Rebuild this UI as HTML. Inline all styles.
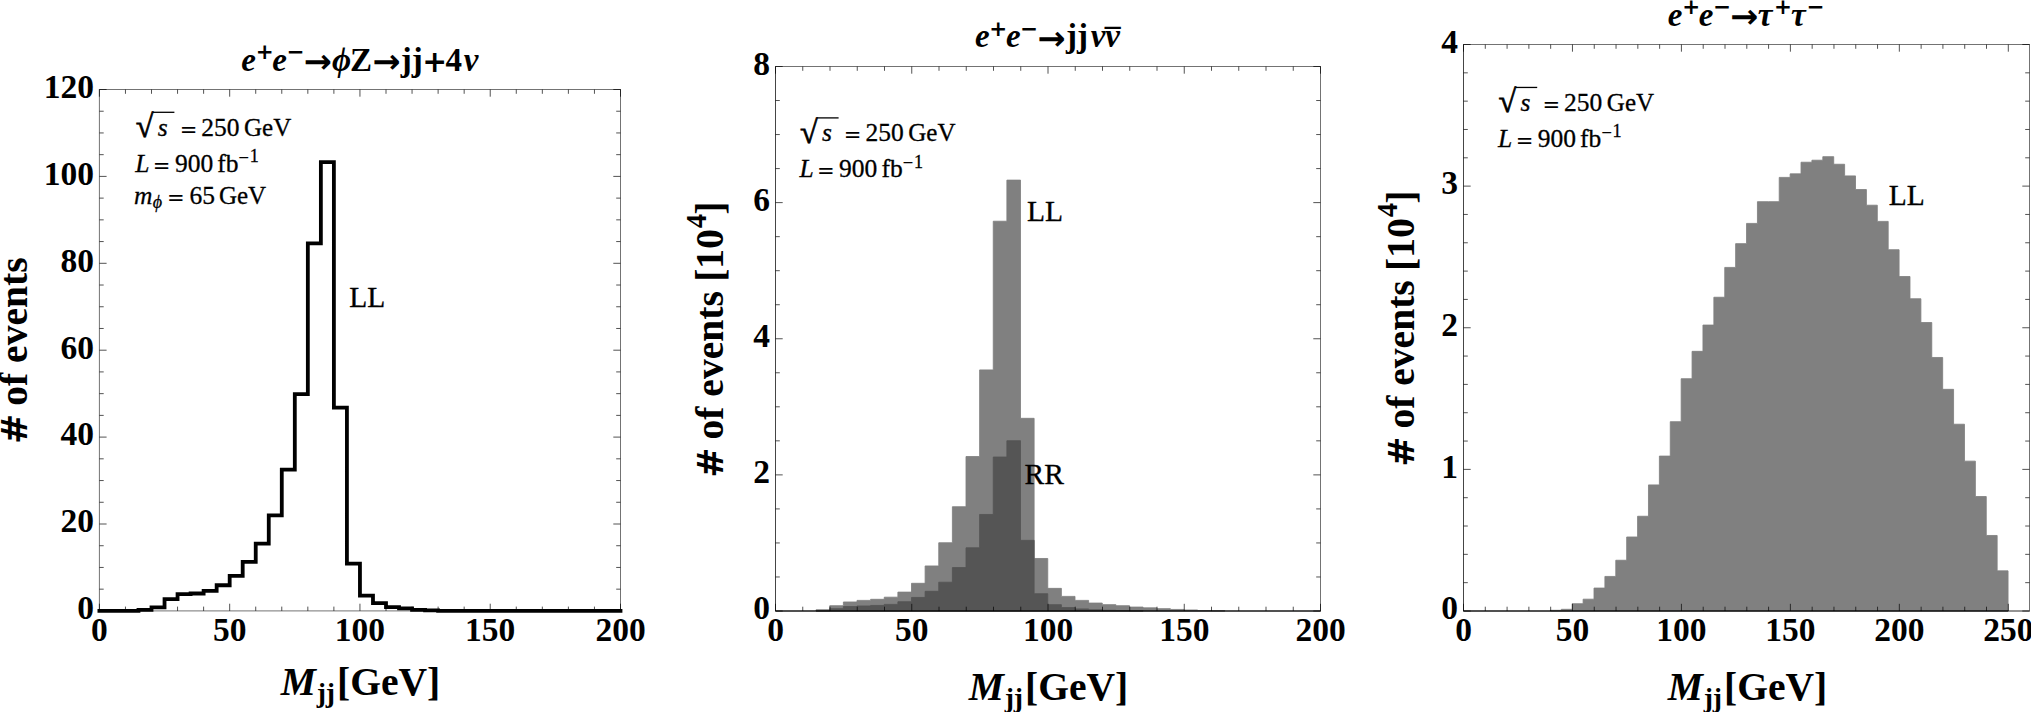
<!DOCTYPE html>
<html><head><meta charset="utf-8"><title>Mjj distributions</title>
<style>
html,body{margin:0;padding:0;background:#fff;overflow:hidden;}
svg{display:block;}
text{font-family:"Liberation Serif","DejaVu Serif",serif;fill:#000;}
.b{font-weight:bold;}
.i{font-style:italic;}
.bi{font-weight:bold;font-style:italic;}
.d{font-family:"DejaVu Sans",sans-serif;font-weight:bold;}
.dr{font-family:"DejaVu Sans",sans-serif;}
.r,.i{stroke:#000;stroke-width:0.3px;}
.rk{stroke:#000;stroke-width:0.7px;}
</style></head><body>
<svg width="2031" height="712" viewBox="0 0 2031 712">
<rect width="2031" height="712" fill="#fff"/>
<path d="M99.40 610.90 L112.43 610.90 L112.43 610.90 L125.46 610.90 L125.46 610.90 L138.48 610.90 L138.48 609.81 L151.51 609.81 L151.51 607.42 L164.54 607.42 L164.54 599.17 L177.56 599.17 L177.56 594.17 L190.59 594.17 L190.59 593.52 L203.62 593.52 L203.62 590.91 L216.65 590.91 L216.65 585.26 L229.68 585.26 L229.68 575.92 L242.70 575.92 L242.70 561.80 L255.73 561.80 L255.73 543.55 L268.76 543.55 L268.76 515.31 L281.78 515.31 L281.78 469.69 L294.81 469.69 L294.81 394.08 L307.84 394.08 L307.84 243.31 L320.87 243.31 L320.87 162.06 L333.89 162.06 L333.89 407.55 L346.92 407.55 L346.92 563.54 L359.95 563.54 L359.95 595.69 L372.98 595.69 L372.98 603.21 L386.00 603.21 L386.00 607.12 L399.03 607.12 L399.03 608.29 L412.06 608.29 L412.06 609.81 L425.09 609.81 L425.09 610.38 L438.12 610.38 L438.12 610.90 L451.14 610.90 L451.14 610.90 L464.17 610.90 L464.17 610.90 L477.20 610.90 L477.20 610.90 L490.23 610.90 L490.23 610.90 L503.25 610.90 L503.25 610.90 L516.28 610.90 L516.28 610.90 L529.31 610.90 L529.31 610.90 L542.34 610.90 L542.34 610.90 L555.36 610.90 L555.36 610.90 L568.39 610.90 L568.39 610.90 L581.42 610.90 L581.42 610.90 L594.45 610.90 L594.45 610.90 L607.47 610.90 L607.47 610.90 L620.50 610.90" fill="none" stroke="#000" stroke-width="3.8" stroke-linejoin="miter" stroke-linecap="square"/>
<path d="M99.40 610.90v-7.20M99.40 89.50v7.20M125.46 610.90v-4.30M125.46 89.50v4.30M151.51 610.90v-4.30M151.51 89.50v4.30M177.56 610.90v-4.30M177.56 89.50v4.30M203.62 610.90v-4.30M203.62 89.50v4.30M229.68 610.90v-7.20M229.68 89.50v7.20M255.73 610.90v-4.30M255.73 89.50v4.30M281.78 610.90v-4.30M281.78 89.50v4.30M307.84 610.90v-4.30M307.84 89.50v4.30M333.89 610.90v-4.30M333.89 89.50v4.30M359.95 610.90v-7.20M359.95 89.50v7.20M386.00 610.90v-4.30M386.00 89.50v4.30M412.06 610.90v-4.30M412.06 89.50v4.30M438.12 610.90v-4.30M438.12 89.50v4.30M464.17 610.90v-4.30M464.17 89.50v4.30M490.23 610.90v-7.20M490.23 89.50v7.20M516.28 610.90v-4.30M516.28 89.50v4.30M542.34 610.90v-4.30M542.34 89.50v4.30M568.39 610.90v-4.30M568.39 89.50v4.30M594.45 610.90v-4.30M594.45 89.50v4.30M620.50 610.90v-7.20M620.50 89.50v7.20M99.40 610.90h7.20M620.50 610.90h-7.20M99.40 589.17h4.30M620.50 589.17h-4.30M99.40 567.45h4.30M620.50 567.45h-4.30M99.40 545.73h4.30M620.50 545.73h-4.30M99.40 524.00h7.20M620.50 524.00h-7.20M99.40 502.27h4.30M620.50 502.27h-4.30M99.40 480.55h4.30M620.50 480.55h-4.30M99.40 458.82h4.30M620.50 458.82h-4.30M99.40 437.10h7.20M620.50 437.10h-7.20M99.40 415.38h4.30M620.50 415.38h-4.30M99.40 393.65h4.30M620.50 393.65h-4.30M99.40 371.92h4.30M620.50 371.92h-4.30M99.40 350.20h7.20M620.50 350.20h-7.20M99.40 328.47h4.30M620.50 328.47h-4.30M99.40 306.75h4.30M620.50 306.75h-4.30M99.40 285.02h4.30M620.50 285.02h-4.30M99.40 263.30h7.20M620.50 263.30h-7.20M99.40 241.57h4.30M620.50 241.57h-4.30M99.40 219.85h4.30M620.50 219.85h-4.30M99.40 198.12h4.30M620.50 198.12h-4.30M99.40 176.40h7.20M620.50 176.40h-7.20M99.40 154.67h4.30M620.50 154.67h-4.30M99.40 132.95h4.30M620.50 132.95h-4.30M99.40 111.22h4.30M620.50 111.22h-4.30M99.40 89.50h7.20M620.50 89.50h-7.20" fill="none" stroke="#000" stroke-opacity="0.68" stroke-width="1.0"/>
<rect x="99.40" y="89.50" width="521.10" height="521.40" fill="none" stroke="#000" stroke-opacity="0.55" stroke-width="1.0"/>
<text class="b" font-size="33.5" x="99.40" y="640.70" text-anchor="middle">0</text>
<text class="b" font-size="33.5" x="229.68" y="640.70" text-anchor="middle">50</text>
<text class="b" font-size="33.5" x="359.95" y="640.70" text-anchor="middle">100</text>
<text class="b" font-size="33.5" x="490.23" y="640.70" text-anchor="middle">150</text>
<text class="b" font-size="33.5" x="620.50" y="640.70" text-anchor="middle">200</text>
<text class="b" font-size="33.5" x="93.90" y="619.20" text-anchor="end">0</text>
<text class="b" font-size="33.5" x="93.90" y="532.30" text-anchor="end">20</text>
<text class="b" font-size="33.5" x="93.90" y="445.40" text-anchor="end">40</text>
<text class="b" font-size="33.5" x="93.90" y="358.50" text-anchor="end">60</text>
<text class="b" font-size="33.5" x="93.90" y="271.60" text-anchor="end">80</text>
<text class="b" font-size="33.5" x="93.90" y="184.70" text-anchor="end">100</text>
<text class="b" font-size="33.5" x="93.90" y="97.80" text-anchor="end">120</text>
<text><tspan class="bi" x="241.33" y="70.60" font-size="33">e</tspan><tspan class="d" x="255.63" y="58.70" font-size="21.4">+</tspan><tspan class="bi" x="272.33" y="70.60" font-size="33">e</tspan><tspan class="d" x="286.63" y="58.70" font-size="21.4">−</tspan><tspan class="d" x="303.79" y="72.70" font-size="33.5">→</tspan><tspan class="bi" x="331.88" y="70.60" font-size="33">ϕ</tspan><tspan class="b" x="350.12" y="70.60" font-size="33">Z</tspan><tspan class="d" x="372.49" y="72.70" font-size="33.5">→</tspan><tspan class="b" x="400.87" y="70.60" font-size="33">jj</tspan><tspan class="d" x="422.25" y="71.80" font-size="29.7">+</tspan><tspan class="b" x="445.55" y="70.60" font-size="33">4</tspan><tspan class="bi" x="463.69" y="70.60" font-size="33">ν</tspan></text>
<text><tspan class="bi" x="280.72" y="695.10" font-size="39.6">M</tspan><tspan class="b" x="316.63" y="701.60" font-size="27.6">jj</tspan><tspan class="b" x="336.96" y="695.10" font-size="39.6">[GeV]</tspan></text>
<text transform="translate(27.00,0) rotate(-90)"><tspan class="d" x="-443.94" y="0.00" font-size="36"># </tspan><tspan class="b" x="-405.81" y="0.00" font-size="39.6">of events</tspan></text>
<line x1="152.90" y1="112.30" x2="174.40" y2="112.30" stroke="#000" stroke-width="1.3"/>
<text><tspan class="rk" x="135.70" y="137.20" font-size="32.2">√</tspan><tspan class="i" x="157.69" y="135.60" font-size="25.5">s </tspan><tspan class="dr" x="179.66" y="136.50" font-size="21.1">= </tspan><tspan class="r" x="201.28" y="135.60" font-size="25.5">250 </tspan><tspan class="r" x="244.07" y="135.60" font-size="25">GeV</tspan></text>
<text><tspan class="i" x="135.20" y="171.70" font-size="25.5">L </tspan><tspan class="dr" x="152.86" y="172.60" font-size="21.1">= </tspan><tspan class="r" x="174.88" y="171.70" font-size="25.5">900 </tspan><tspan class="r" x="217.22" y="171.70" font-size="25.5">fb</tspan><tspan class="dr" x="238.10" y="161.75" font-size="14.2">−</tspan><tspan class="r" x="249.81" y="162.20" font-size="18.1">1</tspan></text>
<text><tspan class="i" x="133.98" y="204.00" font-size="25.5">m</tspan><tspan class="i" x="152.68" y="207.50" font-size="18.1">ϕ </tspan><tspan class="dr" x="167.06" y="204.90" font-size="21.1">= </tspan><tspan class="r" x="189.40" y="204.00" font-size="25.5">65 </tspan><tspan class="r" x="218.97" y="204.00" font-size="25">GeV</tspan></text>
<text class="r" x="349.15" y="306.70" font-size="29.5">LL</text>
<path d="M816.12 611.00V609.72H829.75V605.71H843.38V601.98H857.00V600.38H870.62V599.31H884.25V597.18H897.88V592.11H911.50V583.30H925.12V565.96H938.75V542.75H952.38V506.73H966.00V456.52H979.62V369.92H993.25V221.22H1006.88V180.12H1020.50V418.32H1034.12V558.49H1047.75V588.37H1061.38V596.38H1075.00V600.38H1088.62V603.05H1102.25V604.65H1115.88V605.71H1129.50V607.05H1143.12V607.85H1156.75V608.65H1170.38V609.45H1184.00V609.98H1197.62V610.52H1211.25V610.78H1224.88V611.00Z" fill="#808080" stroke="#808080" stroke-width="0.84" stroke-linejoin="miter"/>
<path d="M816.12 611.00V610.78H829.75V608.65H843.38V606.51H857.00V605.98H870.62V605.45H884.25V604.38H897.88V601.71H911.50V597.44H925.12V591.31H938.75V582.23H952.38V567.56H966.00V547.82H979.62V514.46H993.25V457.02H1006.88V440.72H1020.50V540.35H1034.12V593.71H1047.75V604.65H1061.38V607.58H1075.00V608.92H1088.62V609.72H1102.25V610.25H1115.88V610.52H1129.50V610.78H1143.12V611.00Z" fill="#555555" stroke="#555555" stroke-width="0.84" stroke-linejoin="miter"/>
<path d="M775.50 611.10H1320.50" fill="none" stroke="#000" stroke-opacity="0.6" stroke-width="1.5"/>
<path d="M775.50 611.00v-7.20M775.50 66.50v7.20M802.75 611.00v-4.30M802.75 66.50v4.30M830.00 611.00v-4.30M830.00 66.50v4.30M857.25 611.00v-4.30M857.25 66.50v4.30M884.50 611.00v-4.30M884.50 66.50v4.30M911.75 611.00v-7.20M911.75 66.50v7.20M939.00 611.00v-4.30M939.00 66.50v4.30M966.25 611.00v-4.30M966.25 66.50v4.30M993.50 611.00v-4.30M993.50 66.50v4.30M1020.75 611.00v-4.30M1020.75 66.50v4.30M1048.00 611.00v-7.20M1048.00 66.50v7.20M1075.25 611.00v-4.30M1075.25 66.50v4.30M1102.50 611.00v-4.30M1102.50 66.50v4.30M1129.75 611.00v-4.30M1129.75 66.50v4.30M1157.00 611.00v-4.30M1157.00 66.50v4.30M1184.25 611.00v-7.20M1184.25 66.50v7.20M1211.50 611.00v-4.30M1211.50 66.50v4.30M1238.75 611.00v-4.30M1238.75 66.50v4.30M1266.00 611.00v-4.30M1266.00 66.50v4.30M1293.25 611.00v-4.30M1293.25 66.50v4.30M1320.50 611.00v-7.20M1320.50 66.50v7.20M775.50 611.00h7.20M1320.50 611.00h-7.20M775.50 576.97h4.30M1320.50 576.97h-4.30M775.50 542.94h4.30M1320.50 542.94h-4.30M775.50 508.91h4.30M1320.50 508.91h-4.30M775.50 474.88h7.20M1320.50 474.88h-7.20M775.50 440.84h4.30M1320.50 440.84h-4.30M775.50 406.81h4.30M1320.50 406.81h-4.30M775.50 372.78h4.30M1320.50 372.78h-4.30M775.50 338.75h7.20M1320.50 338.75h-7.20M775.50 304.72h4.30M1320.50 304.72h-4.30M775.50 270.69h4.30M1320.50 270.69h-4.30M775.50 236.66h4.30M1320.50 236.66h-4.30M775.50 202.62h7.20M1320.50 202.62h-7.20M775.50 168.59h4.30M1320.50 168.59h-4.30M775.50 134.56h4.30M1320.50 134.56h-4.30M775.50 100.53h4.30M1320.50 100.53h-4.30M775.50 66.50h7.20M1320.50 66.50h-7.20" fill="none" stroke="#000" stroke-opacity="0.68" stroke-width="1.0"/>
<rect x="775.50" y="66.50" width="545.00" height="544.50" fill="none" stroke="#000" stroke-opacity="0.55" stroke-width="1.0"/>
<path d="M775.50 66.50V611.00H1320.50" fill="none" stroke="#000" stroke-opacity="0.4" stroke-width="1.0"/>
<text class="b" font-size="33.5" x="775.50" y="640.70" text-anchor="middle">0</text>
<text class="b" font-size="33.5" x="911.75" y="640.70" text-anchor="middle">50</text>
<text class="b" font-size="33.5" x="1048.00" y="640.70" text-anchor="middle">100</text>
<text class="b" font-size="33.5" x="1184.25" y="640.70" text-anchor="middle">150</text>
<text class="b" font-size="33.5" x="1320.50" y="640.70" text-anchor="middle">200</text>
<text class="b" font-size="33.5" x="770.00" y="619.30" text-anchor="end">0</text>
<text class="b" font-size="33.5" x="770.00" y="483.18" text-anchor="end">2</text>
<text class="b" font-size="33.5" x="770.00" y="347.05" text-anchor="end">4</text>
<text class="b" font-size="33.5" x="770.00" y="210.93" text-anchor="end">6</text>
<text class="b" font-size="33.5" x="770.00" y="74.80" text-anchor="end">8</text>
<text><tspan class="bi" x="974.93" y="47.45" font-size="33">e</tspan><tspan class="d" x="989.23" y="35.55" font-size="21.4">+</tspan><tspan class="bi" x="1005.93" y="47.45" font-size="33">e</tspan><tspan class="d" x="1020.23" y="35.55" font-size="21.4">−</tspan><tspan class="d" x="1037.39" y="49.55" font-size="33.5">→</tspan><tspan class="b" x="1065.97" y="47.45" font-size="33">jj</tspan><tspan class="bi" x="1090.69" y="47.45" font-size="33">ν</tspan><tspan class="bi" x="1105.19" y="47.45" font-size="33">ν</tspan><tspan class="b" x="1104.76" y="50.60" font-size="31.7">¯</tspan></text>
<text><tspan class="bi" x="968.72" y="700.40" font-size="39.6">M</tspan><tspan class="b" x="1004.63" y="706.90" font-size="27.6">jj</tspan><tspan class="b" x="1024.96" y="700.40" font-size="39.6">[GeV]</tspan></text>
<text transform="translate(722.50,0) rotate(-90)"><tspan class="d" x="-477.64" y="0.00" font-size="36"># </tspan><tspan class="b" x="-439.51" y="0.00" font-size="39.6">of events </tspan><tspan class="b" x="-281.87" y="0.00" font-size="40">[</tspan><tspan class="b" x="-268.90" y="0.00" font-size="40">10</tspan><tspan class="b" x="-228.19" y="-16.20" font-size="28.4">4</tspan><tspan class="b" x="-214.65" y="0.00" font-size="40">]</tspan></text>
<line x1="817.10" y1="117.90" x2="838.60" y2="117.90" stroke="#000" stroke-width="1.3"/>
<text><tspan class="rk" x="799.90" y="142.80" font-size="32.2">√</tspan><tspan class="i" x="821.89" y="141.20" font-size="25.5">s </tspan><tspan class="dr" x="843.86" y="142.10" font-size="21.1">= </tspan><tspan class="r" x="865.48" y="141.20" font-size="25.5">250 </tspan><tspan class="r" x="908.27" y="141.20" font-size="25">GeV</tspan></text>
<text><tspan class="i" x="799.40" y="177.30" font-size="25.5">L </tspan><tspan class="dr" x="817.06" y="178.20" font-size="21.1">= </tspan><tspan class="r" x="839.08" y="177.30" font-size="25.5">900 </tspan><tspan class="r" x="881.42" y="177.30" font-size="25.5">fb</tspan><tspan class="dr" x="902.30" y="167.35" font-size="14.2">−</tspan><tspan class="r" x="914.01" y="167.80" font-size="18.1">1</tspan></text>
<text class="r" x="1027.05" y="220.50" font-size="29.5">LL</text>
<text class="r" x="1024.55" y="483.90" font-size="29.5">RR</text>
<path d="M1550.42 611.00V610.31H1561.31V609.30H1572.21V603.73H1583.11V599.18H1594.00V588.06H1604.90V576.43H1615.79V560.25H1626.69V536.99H1637.59V516.25H1648.48V484.90H1659.38V456.08H1670.27V421.70H1681.17V378.71H1692.07V351.35H1702.96V325.06H1713.86V297.24H1724.75V267.41H1735.65V243.64H1746.55V223.42H1757.44V201.67H1768.34V201.67H1779.23V177.40H1790.13V173.86H1801.03V162.23H1811.92V160.21H1822.82V156.67H1833.71V164.25H1844.61V175.89H1855.51V189.54H1866.40V205.21H1877.30V221.39H1888.19V249.71H1899.09V276.51H1909.99V298.76H1920.88V322.53H1931.78V357.48H1942.67V389.33H1953.57V424.22H1964.47V461.14H1975.36V496.53H1986.26V535.47H1997.15V570.87H2008.05V611.00Z" fill="#808080" stroke="#808080" stroke-width="0.84" stroke-linejoin="miter"/>
<path d="M1463.50 611.10H2008.30" fill="none" stroke="#000" stroke-opacity="0.6" stroke-width="1.5"/>
<path d="M1463.50 611.00v-7.20M1463.50 44.50v7.20M1485.29 611.00v-4.30M1485.29 44.50v4.30M1507.08 611.00v-4.30M1507.08 44.50v4.30M1528.88 611.00v-4.30M1528.88 44.50v4.30M1550.67 611.00v-4.30M1550.67 44.50v4.30M1572.46 611.00v-7.20M1572.46 44.50v7.20M1594.25 611.00v-4.30M1594.25 44.50v4.30M1616.04 611.00v-4.30M1616.04 44.50v4.30M1637.84 611.00v-4.30M1637.84 44.50v4.30M1659.63 611.00v-4.30M1659.63 44.50v4.30M1681.42 611.00v-7.20M1681.42 44.50v7.20M1703.21 611.00v-4.30M1703.21 44.50v4.30M1725.00 611.00v-4.30M1725.00 44.50v4.30M1746.80 611.00v-4.30M1746.80 44.50v4.30M1768.59 611.00v-4.30M1768.59 44.50v4.30M1790.38 611.00v-7.20M1790.38 44.50v7.20M1812.17 611.00v-4.30M1812.17 44.50v4.30M1833.96 611.00v-4.30M1833.96 44.50v4.30M1855.76 611.00v-4.30M1855.76 44.50v4.30M1877.55 611.00v-4.30M1877.55 44.50v4.30M1899.34 611.00v-7.20M1899.34 44.50v7.20M1921.13 611.00v-4.30M1921.13 44.50v4.30M1942.92 611.00v-4.30M1942.92 44.50v4.30M1964.72 611.00v-4.30M1964.72 44.50v4.30M1986.51 611.00v-4.30M1986.51 44.50v4.30M2008.30 611.00v-7.20M2008.30 44.50v7.20M1463.50 611.00h7.20M2029.50 611.00h-7.20M1463.50 582.67h4.30M2029.50 582.67h-4.30M1463.50 554.35h4.30M2029.50 554.35h-4.30M1463.50 526.02h4.30M2029.50 526.02h-4.30M1463.50 497.70h4.30M2029.50 497.70h-4.30M1463.50 469.38h7.20M2029.50 469.38h-7.20M1463.50 441.05h4.30M2029.50 441.05h-4.30M1463.50 412.73h4.30M2029.50 412.73h-4.30M1463.50 384.40h4.30M2029.50 384.40h-4.30M1463.50 356.07h4.30M2029.50 356.07h-4.30M1463.50 327.75h7.20M2029.50 327.75h-7.20M1463.50 299.42h4.30M2029.50 299.42h-4.30M1463.50 271.10h4.30M2029.50 271.10h-4.30M1463.50 242.77h4.30M2029.50 242.77h-4.30M1463.50 214.45h4.30M2029.50 214.45h-4.30M1463.50 186.12h7.20M2029.50 186.12h-7.20M1463.50 157.80h4.30M2029.50 157.80h-4.30M1463.50 129.48h4.30M2029.50 129.48h-4.30M1463.50 101.15h4.30M2029.50 101.15h-4.30M1463.50 72.83h4.30M2029.50 72.83h-4.30M1463.50 44.50h7.20M2029.50 44.50h-7.20" fill="none" stroke="#000" stroke-opacity="0.68" stroke-width="1.0"/>
<rect x="1463.50" y="44.50" width="566.00" height="566.50" fill="none" stroke="#000" stroke-opacity="0.55" stroke-width="1.0"/>
<path d="M1463.50 44.50V611.00H2029.50" fill="none" stroke="#000" stroke-opacity="0.4" stroke-width="1.0"/>
<text class="b" font-size="33.5" x="1463.50" y="640.70" text-anchor="middle">0</text>
<text class="b" font-size="33.5" x="1572.46" y="640.70" text-anchor="middle">50</text>
<text class="b" font-size="33.5" x="1681.42" y="640.70" text-anchor="middle">100</text>
<text class="b" font-size="33.5" x="1790.38" y="640.70" text-anchor="middle">150</text>
<text class="b" font-size="33.5" x="1899.34" y="640.70" text-anchor="middle">200</text>
<text class="b" font-size="33.5" x="2008.30" y="640.70" text-anchor="middle">250</text>
<text class="b" font-size="33.5" x="1458.00" y="619.30" text-anchor="end">0</text>
<text class="b" font-size="33.5" x="1458.00" y="477.68" text-anchor="end">1</text>
<text class="b" font-size="33.5" x="1458.00" y="336.05" text-anchor="end">2</text>
<text class="b" font-size="33.5" x="1458.00" y="194.43" text-anchor="end">3</text>
<text class="b" font-size="33.5" x="1458.00" y="52.80" text-anchor="end">4</text>
<text><tspan class="bi" x="1667.83" y="26.00" font-size="33">e</tspan><tspan class="d" x="1682.13" y="14.10" font-size="21.4">+</tspan><tspan class="bi" x="1698.83" y="26.00" font-size="33">e</tspan><tspan class="d" x="1713.13" y="14.10" font-size="21.4">−</tspan><tspan class="d" x="1730.29" y="28.10" font-size="33.5">→</tspan><tspan class="bi" x="1757.82" y="26.00" font-size="33">τ</tspan><tspan class="d" x="1774.03" y="14.10" font-size="21.4">+</tspan><tspan class="bi" x="1791.02" y="26.00" font-size="33">τ</tspan><tspan class="d" x="1806.73" y="14.10" font-size="21.4">−</tspan></text>
<text><tspan class="bi" x="1667.72" y="700.30" font-size="39.6">M</tspan><tspan class="b" x="1703.63" y="706.80" font-size="27.6">jj</tspan><tspan class="b" x="1723.96" y="700.30" font-size="39.6">[GeV]</tspan></text>
<text transform="translate(1413.50,0) rotate(-90)"><tspan class="d" x="-466.74" y="0.00" font-size="36"># </tspan><tspan class="b" x="-428.61" y="0.00" font-size="39.6">of events </tspan><tspan class="b" x="-270.97" y="0.00" font-size="40">[</tspan><tspan class="b" x="-258.00" y="0.00" font-size="40">10</tspan><tspan class="b" x="-217.29" y="-16.20" font-size="28.4">4</tspan><tspan class="b" x="-203.75" y="0.00" font-size="40">]</tspan></text>
<line x1="1515.70" y1="87.45" x2="1537.20" y2="87.45" stroke="#000" stroke-width="1.3"/>
<text><tspan class="rk" x="1498.50" y="112.35" font-size="32.2">√</tspan><tspan class="i" x="1520.49" y="110.75" font-size="25.5">s </tspan><tspan class="dr" x="1542.46" y="111.65" font-size="21.1">= </tspan><tspan class="r" x="1564.08" y="110.75" font-size="25.5">250 </tspan><tspan class="r" x="1606.87" y="110.75" font-size="25">GeV</tspan></text>
<text><tspan class="i" x="1498.00" y="146.85" font-size="25.5">L </tspan><tspan class="dr" x="1515.66" y="147.75" font-size="21.1">= </tspan><tspan class="r" x="1537.68" y="146.85" font-size="25.5">900 </tspan><tspan class="r" x="1580.02" y="146.85" font-size="25.5">fb</tspan><tspan class="dr" x="1600.90" y="136.90" font-size="14.2">−</tspan><tspan class="r" x="1612.61" y="137.35" font-size="18.1">1</tspan></text>
<text class="r" x="1888.85" y="205.20" font-size="29.5">LL</text>
</svg></body></html>
